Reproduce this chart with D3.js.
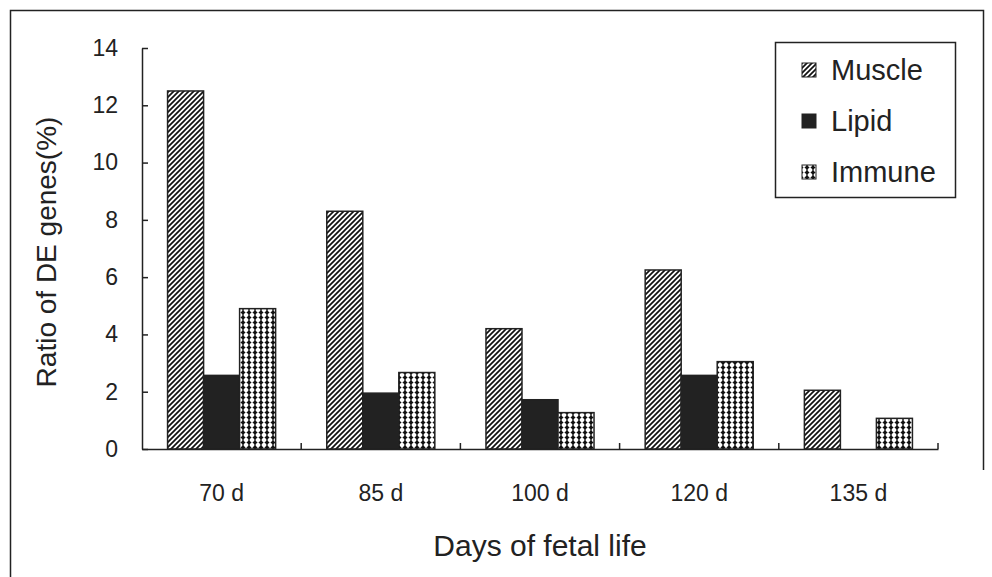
<!DOCTYPE html>
<html><head><meta charset="utf-8">
<script src="https://cdn.jsdelivr.net/npm/d3@7"></script>
<style>body{margin:0;background:#fff}svg{display:block;font-family:"Liberation Sans",Arial,sans-serif}</style>
</head><body>
<svg id="c" width="992" height="577"></svg>
<script>
const categories = ["70 d","85 d","100 d","120 d","135 d"];
const seriesNames = ["Muscle","Lipid","Immune"];
const muscle = [12.5, 8.3, 4.2, 6.25, 2.05];
const lipid  = [2.57, 1.95, 1.72, 2.57, 0];
const immune = [4.9, 2.67, 1.27, 3.05, 1.07];
const yTicks = [0,2,4,6,8,10,12,14];
const seriesValues = [muscle, lipid, immune];

const ink = "#222";
const svg = d3.select("#c");
const defs = svg.append("defs");

// hatch pattern
const ph = defs.append("pattern").attr("id","hatch").attr("patternUnits","userSpaceOnUse")
  .attr("width",5).attr("height",5);
ph.append("rect").attr("width",5).attr("height",5).attr("fill","#fff");
ph.append("path").attr("d","M-1,6 L6,-1 M-1,1 L1,-1 M4,6 L6,4").attr("stroke","#111").attr("stroke-width",1.7);

// diamond/dot pattern
const pd = defs.append("pattern").attr("id","dots").attr("patternUnits","userSpaceOnUse")
  .attr("width",6).attr("height",5);
pd.append("rect").attr("width",6).attr("height",5).attr("fill","#fff");
pd.append("rect").attr("x",2.4).attr("y",0).attr("width",1.2).attr("height",5).attr("fill","#111");
pd.append("path").attr("d","M3,0.2 L5.6,2.5 L3,4.8 L0.4,2.5 Z").attr("fill","#111");

const fills = ["url(#hatch)", ink, "url(#dots)"];

// frame
svg.append("path").attr("d","M10.5,577 L10.5,10.5 L983.5,10.5 L983.5,470")
  .attr("fill","none").attr("stroke",ink).attr("stroke-width",1.5);

const x0 = 142, x1 = 938, yTop = 48, yBot = 449;
const x = d3.scaleBand().domain(categories).range([x0,x1]).paddingInner(0).paddingOuter(0);
const xs = d3.scaleBand().domain(seriesNames).range([0,x.bandwidth()]).paddingInner(0).paddingOuter(0.71);
const y = d3.scaleLinear().domain([0,14]).range([yBot,yTop]);

// bars
seriesNames.forEach((s,si)=>{
  svg.append("g").selectAll("rect").data(categories.map((c,i)=>({c,v:seriesValues[si][i]})).filter(d=>d.v>0))
    .join("rect")
    .attr("x",d=>x(d.c)+xs(s))
    .attr("y",d=>y(d.v))
    .attr("width",xs.bandwidth())
    .attr("height",d=>yBot-y(d.v))
    .attr("fill",fills[si])
    .attr("stroke",ink).attr("stroke-width",1.5);
});

// y axis
const ya = svg.append("g").attr("transform",`translate(${x0},0)`)
  .call(d3.axisLeft(y).tickValues(yTicks).tickSize(-6).tickPadding(24).tickSizeOuter(0));
ya.attr("font-size",23).attr("font-family","Liberation Sans, Arial, sans-serif");
ya.select(".domain").attr("stroke",ink).attr("stroke-width",1.5);
ya.selectAll(".tick line").attr("stroke",ink).attr("stroke-width",1.5);
ya.selectAll("text").attr("fill",ink);

// x axis
const xa = svg.append("g").attr("transform",`translate(0,${yBot})`)
  .call(d3.axisBottom(x).tickSize(0).tickPadding(36).tickSizeOuter(0));
xa.attr("font-size",23).attr("font-family","Liberation Sans, Arial, sans-serif");
xa.select(".domain").attr("stroke",ink).attr("stroke-width",1.5);
xa.selectAll("text").attr("fill",ink);
const bounds = categories.map(c=>x(c)).concat([x.range()[1]]).slice(1);
svg.append("g").selectAll("line").data(bounds).join("line")
  .attr("x1",d=>d).attr("x2",d=>d).attr("y1",yBot).attr("y2",yBot-6)
  .attr("stroke",ink).attr("stroke-width",1.5);

// axis titles
svg.append("text").attr("transform","translate(56,252) rotate(-90)")
  .attr("text-anchor","middle").attr("font-size",28).attr("fill",ink).text("Ratio of DE genes(%)");
svg.append("text").attr("x",540).attr("y",556)
  .attr("text-anchor","middle").attr("font-size",30).attr("fill",ink).text("Days of fetal life");

// legend
const lg = svg.append("g");
lg.append("rect").attr("x",775.5).attr("y",42.5).attr("width",180).attr("height",155)
  .attr("fill","#fff").attr("stroke",ink).attr("stroke-width",1.5);
const ly = d3.scalePoint().domain(seriesNames).range([70,172]);
seriesNames.forEach((s,si)=>{
  lg.append("rect").attr("x",802).attr("y",ly(s)-7).attr("width",14).attr("height",14)
    .attr("fill",fills[si]).attr("stroke",ink).attr("stroke-width",1);
  lg.append("text").attr("x",831).attr("y",ly(s)+10).attr("font-size",29).attr("fill",ink).text(s);
});
</script>
</body></html>
